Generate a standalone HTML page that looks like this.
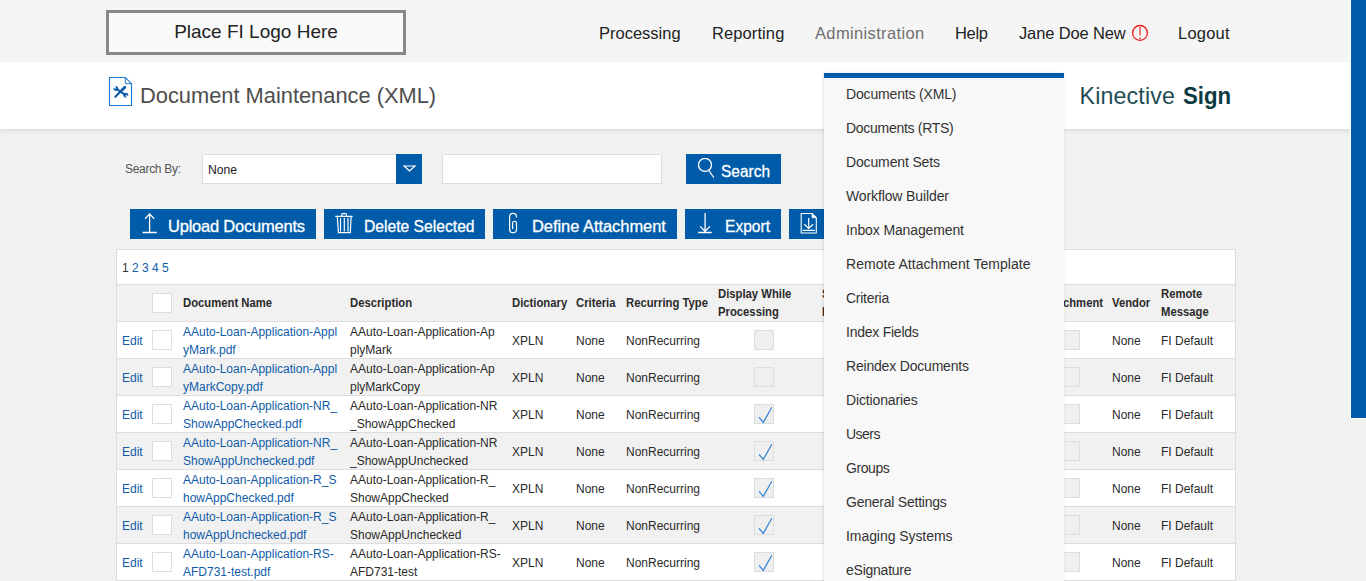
<!DOCTYPE html>
<html><head><meta charset="utf-8">
<style>
*{box-sizing:border-box;margin:0;padding:0}
html,body{width:1366px;height:581px;overflow:hidden;background:#f1f1f1;font-family:"Liberation Sans",sans-serif;color:#333}
svg{display:block;position:absolute}
#top{position:absolute;left:0;top:0;width:1350px;height:62px;background:#f5f5f5}
#logo{position:absolute;left:106px;top:10px;width:300px;height:45px;border:3px solid #888;background:#fafafa;color:#222;font-size:19px;text-align:center;line-height:38px}
.nav{position:absolute;top:23px;font-size:16.5px;color:#222;white-space:nowrap;line-height:20px}
#band{position:absolute;left:0;top:62px;width:1350px;height:67px;background:#fff;box-shadow:0 2px 4px rgba(0,0,0,0.09)}
#title{position:absolute;left:140px;top:83px;font-size:22.2px;color:#4d4d4d;white-space:nowrap;line-height:26px;transform:scaleX(0.984);transform-origin:0 0}
#kin{position:absolute;left:1079.5px;top:82px;font-size:23.2px;color:#1f4c54;white-space:nowrap;line-height:28px}
#scroll{position:absolute;left:1350px;top:0;width:16px;height:419px;background:#005ca9;border-left:1px solid #fff;border-bottom:1px solid #fff}
.lbl{position:absolute;left:125px;top:161px;font-size:12px;color:#555;line-height:16px;letter-spacing:-0.3px}
.sel{position:absolute;left:202px;top:154px;width:220px;height:30px;background:#fff;border:1px solid #ddd}
.sel span{position:absolute;left:5px;top:1px;line-height:28px;font-size:12.2px;color:#222}
.selb{position:absolute;left:396px;top:154px;width:26px;height:30px;background:#005ca9}
.inp{position:absolute;left:442px;top:154px;width:220px;height:30px;background:#fff;border:1px solid #ddd}
.btn{position:absolute;background:#005ca9;color:#fff;font-size:16px;height:30px;line-height:30px;white-space:nowrap}
.btn span{position:absolute;top:0;-webkit-text-stroke:0.3px #fff}
#tbl{position:absolute;left:116px;top:249px;width:1120px;height:73px;background:#fff;border:1px solid #ddd}
#pg{position:absolute;left:5px;top:10px;font-size:12px;line-height:16px;color:#0f5ba8;white-space:nowrap}
#hdr{position:absolute;left:0;top:34px;width:1118px;height:38px;background:#f1f1f1;border-top:1px solid #ddd;border-bottom:1px solid #ddd}
.h{position:absolute;top:0;font-size:12.2px;font-weight:bold;color:#2b2b2b;line-height:36px;white-space:nowrap;transform:scaleX(0.926);transform-origin:0 0}
.h2{position:absolute;top:0;font-size:12.2px;font-weight:bold;color:#2b2b2b;line-height:18px;white-space:nowrap;transform:scaleX(0.926);transform-origin:0 0}
.row{position:absolute;left:116px;width:1120px;height:37px;border-left:1px solid #ddd;border-right:1px solid #ddd;border-bottom:1px solid #ddd}
.c{position:absolute;top:1px;font-size:12px;line-height:36px;white-space:nowrap;color:#2a2a2a}
.c2{position:absolute;top:1px;font-size:12px;line-height:18px;white-space:nowrap;color:#2a2a2a}
.lk{color:#0f5ba8}
.cb{position:absolute;top:8px;width:20px;height:20px;background:#fff;border:1px solid #ddd}
.cb.dis{background:#efefef}
.cb svg{left:-1px;top:-1px}
#dd{position:absolute;left:824px;top:73px;width:240px;height:520px;background:#f8f8f8;border-top:5px solid #005ca9;box-shadow:-1px 0 3px rgba(0,0,0,0.12)}
.ddi{position:absolute;left:22px;font-size:14px;letter-spacing:-0.18px;color:#333;white-space:nowrap;line-height:20px}
</style></head>
<body>
<div id="top"></div>
<div id="logo">Place FI Logo Here</div>
<div class="nav" style="left:599px">Processing</div>
<div class="nav" style="left:712px;letter-spacing:0.097px">Reporting</div>
<div class="nav" style="left:815px;color:#6f6f6f;letter-spacing:0.352px">Administration</div>
<div class="nav" style="left:955px;letter-spacing:-0.336px">Help</div>
<div class="nav" style="left:1019px;letter-spacing:-0.14px">Jane Doe New</div>
<svg style="left:1131px;top:24px" width="18" height="18" viewBox="0 0 18 18"><circle cx="9" cy="8.9" r="7.4" fill="none" stroke="#f01c1c" stroke-width="1.3"/><path d="M9.1 3 V11.4" stroke="#f01c1c" stroke-width="1.15"/><rect x="8.3" y="13.6" width="1.6" height="1.3" fill="#f01c1c"/></svg>
<div class="nav" style="left:1178px;letter-spacing:0.222px">Logout</div>
<div id="band"></div>
<svg style="left:108px;top:76px" width="26" height="31" viewBox="0 0 26 31">
<path d="M1.5 1.5 H17.3 L23.5 7.7 V29.5 H1.5 Z" fill="#fff" stroke="#1b7ad0" stroke-width="1.1"/>
<path d="M17.3 1.5 V7.7 H23.5" fill="none" stroke="#1b7ad0" stroke-width="1"/>
<circle cx="7.9" cy="12.6" r="2.4" fill="#0b5aa8"/><circle cx="17.8" cy="19.2" r="2.4" fill="#0b5aa8"/>
<path d="M7.9 12.6 L17.8 19.2" stroke="#0b5aa8" stroke-width="2"/>
<path d="M7.7 12.4 L5.6 10.3 M18 19.4 L20.1 21.5" stroke="#fff" stroke-width="1.5"/>
<path d="M7.3 20.8 L13.3 14.8" stroke="#0b5aa8" stroke-width="2.1" stroke-linecap="round"/>
<path d="M13.8 14.3 L16.8 11.3" stroke="#0b5aa8" stroke-width="2.8" stroke-linecap="round"/>
</svg>
<div id="title">Document Maintenance (XML)</div>
<div id="kin"><span style="letter-spacing:0.17px">Kinective</span> <b style="display:inline-block;margin-left:1px;color:#0b3a42;transform:scaleX(0.958);transform-origin:0 0">Sign</b></div>
<div class="lbl">Search By:</div>
<div class="sel"><span>None</span></div>
<div class="selb"><svg style="left:7px;top:11px" width="13" height="7" viewBox="0 0 13 7"><path d="M1 1 H12 L6.5 6 Z" fill="none" stroke="#fff" stroke-width="1.2"/></svg></div>
<div class="inp"></div>
<div class="btn" style="left:686px;top:154px;width:95px">
<svg style="left:11px;top:4px" width="20" height="22" viewBox="0 0 20 22"><circle cx="8" cy="6.9" r="6.5" fill="none" stroke="#fff" stroke-width="1.3"/><path d="M11.8 12.4 L16.8 19.6" stroke="#fff" stroke-width="1.1"/></svg>
<span style="left:35px;font-size:16.5px;top:1.5px;transform:scaleX(0.937);transform-origin:0 0">Search</span></div>
<div class="btn" style="left:130px;top:209px;width:186px">
<svg style="left:11px;top:3px" width="18" height="22" viewBox="0 0 18 22"><path d="M8.6 2 V20.5 M4.1 6.8 L8.6 1.9 L13.1 6.8 M1.5 20.5 H15.8" fill="none" stroke="#fff" stroke-width="1.3"/></svg>
<span style="left:38px;top:2px;font-size:16.5px;letter-spacing:-0.216px">Upload Documents</span></div>
<div class="btn" style="left:324px;top:209px;width:161px">
<svg style="left:10px;top:3px" width="20" height="23" viewBox="0 0 20 23"><path d="M1.2 4.3 H18.7 M7.7 4 V2.5 Q7.7 1.6 8.6 1.6 H11.5 Q12.4 1.6 12.4 2.5 V4 M3.3 4.7 L4.4 20.6 H16.3 L17.1 4.7 M6.5 6 V19.6 M10.3 6 V19.6 M14 6 V19.6" fill="none" stroke="#fff" stroke-width="1.2"/></svg>
<span style="left:40px;top:2px;font-size:16.5px;transform:scaleX(0.949);transform-origin:0 0">Delete Selected</span></div>
<div class="btn" style="left:493px;top:209px;width:184px">
<svg style="left:14px;top:3px" width="12" height="23" viewBox="0 0 12 23"><path d="M9.5 5.5 V4.85 A3.45 3.45 0 0 0 2.6 4.85 V17.35 A3.45 3.45 0 0 0 9.5 17.35 V11.2 A1.95 1.95 0 0 0 5.6 11.2 V16.9" fill="none" stroke="#fff" stroke-width="1.2"/></svg>
<span style="left:39px;top:2px;font-size:16.5px;letter-spacing:-0.057px">Define Attachment</span></div>
<div class="btn" style="left:685px;top:209px;width:96px">
<svg style="left:11px;top:3px" width="18" height="22" viewBox="0 0 18 22"><path d="M9.1 1 V19.5 M4.2 14.4 L9.1 19.3 L14 14.4 M2.2 20.5 H15.7" fill="none" stroke="#fff" stroke-width="1.3"/></svg>
<span style="left:40px;top:2px;font-size:16.5px;transform:scaleX(0.944);transform-origin:0 0">Export</span></div>
<div class="btn" style="left:789px;top:209px;width:40px">
<svg style="left:11px;top:3px" width="18" height="22" viewBox="0 0 18 22"><path d="M1.2 1.5 H12 L16.3 5.8 V21 H1.2 Z" fill="none" stroke="#fff" stroke-width="1.1"/><path d="M12 1.5 V5.8 H16.3 Z" fill="#fff" stroke="#fff" stroke-width="0.6"/><path d="M8.7 6 V16.4 M4.3 12.2 L8.7 16.4 L13.1 12.2 M2.7 18.3 H14.8" fill="none" stroke="#fff" stroke-width="1.2"/></svg>
</div>
<div id="tbl">
<div id="pg"><span style="color:#333">1</span> 2 3 4 5</div>
<div id="hdr">
<span class="cb" style="left:35px;top:8px"></span>
<span class="h" style="left:66px">Document Name</span>
<span class="h" style="left:233px">Description</span>
<span class="h" style="left:395px">Dictionary</span>
<span class="h" style="left:459px">Criteria</span>
<span class="h" style="left:509px">Recurring Type</span>
<span class="h2" style="left:601px">Display While<br>Processing</span>
<span class="h2" style="left:705px">S<br>I</span>
<span class="h" style="left:924px">Attachment</span>
<span class="h" style="left:995px">Vendor</span>
<span class="h2" style="left:1044px">Remote<br>Message</span>
</div>
</div>
<div class="row" style="top:322px;background:#fff">
<span class="c lk" style="left:5px">Edit</span>
<span class="cb" style="left:35px"></span>
<span class="c2 lk" style="left:66px">AAuto-Loan-Application-Appl<br>yMark.pdf</span>
<span class="c2" style="left:233px">AAuto-Loan-Application-Ap<br>plyMark</span>
<span class="c" style="left:395px">XPLN</span>
<span class="c" style="left:459px">None</span>
<span class="c" style="left:509px">NonRecurring</span>
<span class="cb dis" style="left:637px"></span>
<span class="cb dis" style="left:943px"></span>
<span class="c" style="left:995px">None</span>
<span class="c" style="left:1044px">FI Default</span>
</div>
<div class="row" style="top:359px;background:#f1f1f1">
<span class="c lk" style="left:5px">Edit</span>
<span class="cb" style="left:35px"></span>
<span class="c2 lk" style="left:66px">AAuto-Loan-Application-Appl<br>yMarkCopy.pdf</span>
<span class="c2" style="left:233px">AAuto-Loan-Application-Ap<br>plyMarkCopy</span>
<span class="c" style="left:395px">XPLN</span>
<span class="c" style="left:459px">None</span>
<span class="c" style="left:509px">NonRecurring</span>
<span class="cb dis" style="left:637px"></span>
<span class="cb dis" style="left:943px"></span>
<span class="c" style="left:995px">None</span>
<span class="c" style="left:1044px">FI Default</span>
</div>
<div class="row" style="top:396px;background:#fff">
<span class="c lk" style="left:5px">Edit</span>
<span class="cb" style="left:35px"></span>
<span class="c2 lk" style="left:66px">AAuto-Loan-Application-NR_<br>ShowAppChecked.pdf</span>
<span class="c2" style="left:233px">AAuto-Loan-Application-NR<br>_ShowAppChecked</span>
<span class="c" style="left:395px">XPLN</span>
<span class="c" style="left:459px">None</span>
<span class="c" style="left:509px">NonRecurring</span>
<span class="cb dis" style="left:637px"><svg class="ck" width="20" height="20" viewBox="0 0 20 20"><path d="M5 13.3 L9.3 18.4 L17.8 3.2" fill="none" stroke="#2f82d3" stroke-width="1.15"/></svg></span>
<span class="cb dis" style="left:943px"></span>
<span class="c" style="left:995px">None</span>
<span class="c" style="left:1044px">FI Default</span>
</div>
<div class="row" style="top:433px;background:#f1f1f1">
<span class="c lk" style="left:5px">Edit</span>
<span class="cb" style="left:35px"></span>
<span class="c2 lk" style="left:66px">AAuto-Loan-Application-NR_<br>ShowAppUnchecked.pdf</span>
<span class="c2" style="left:233px">AAuto-Loan-Application-NR<br>_ShowAppUnchecked</span>
<span class="c" style="left:395px">XPLN</span>
<span class="c" style="left:459px">None</span>
<span class="c" style="left:509px">NonRecurring</span>
<span class="cb dis" style="left:637px"><svg class="ck" width="20" height="20" viewBox="0 0 20 20"><path d="M5 13.3 L9.3 18.4 L17.8 3.2" fill="none" stroke="#2f82d3" stroke-width="1.15"/></svg></span>
<span class="cb dis" style="left:943px"></span>
<span class="c" style="left:995px">None</span>
<span class="c" style="left:1044px">FI Default</span>
</div>
<div class="row" style="top:470px;background:#fff">
<span class="c lk" style="left:5px">Edit</span>
<span class="cb" style="left:35px"></span>
<span class="c2 lk" style="left:66px">AAuto-Loan-Application-R_S<br>howAppChecked.pdf</span>
<span class="c2" style="left:233px">AAuto-Loan-Application-R_<br>ShowAppChecked</span>
<span class="c" style="left:395px">XPLN</span>
<span class="c" style="left:459px">None</span>
<span class="c" style="left:509px">NonRecurring</span>
<span class="cb dis" style="left:637px"><svg class="ck" width="20" height="20" viewBox="0 0 20 20"><path d="M5 13.3 L9.3 18.4 L17.8 3.2" fill="none" stroke="#2f82d3" stroke-width="1.15"/></svg></span>
<span class="cb dis" style="left:943px"></span>
<span class="c" style="left:995px">None</span>
<span class="c" style="left:1044px">FI Default</span>
</div>
<div class="row" style="top:507px;background:#f1f1f1">
<span class="c lk" style="left:5px">Edit</span>
<span class="cb" style="left:35px"></span>
<span class="c2 lk" style="left:66px">AAuto-Loan-Application-R_S<br>howAppUnchecked.pdf</span>
<span class="c2" style="left:233px">AAuto-Loan-Application-R_<br>ShowAppUnchecked</span>
<span class="c" style="left:395px">XPLN</span>
<span class="c" style="left:459px">None</span>
<span class="c" style="left:509px">NonRecurring</span>
<span class="cb dis" style="left:637px"><svg class="ck" width="20" height="20" viewBox="0 0 20 20"><path d="M5 13.3 L9.3 18.4 L17.8 3.2" fill="none" stroke="#2f82d3" stroke-width="1.15"/></svg></span>
<span class="cb dis" style="left:943px"></span>
<span class="c" style="left:995px">None</span>
<span class="c" style="left:1044px">FI Default</span>
</div>
<div class="row" style="top:544px;background:#fff">
<span class="c lk" style="left:5px">Edit</span>
<span class="cb" style="left:35px"></span>
<span class="c2 lk" style="left:66px">AAuto-Loan-Application-RS-<br>AFD731-test.pdf</span>
<span class="c2" style="left:233px">AAuto-Loan-Application-RS-<br>AFD731-test</span>
<span class="c" style="left:395px">XPLN</span>
<span class="c" style="left:459px">None</span>
<span class="c" style="left:509px">NonRecurring</span>
<span class="cb dis" style="left:637px"><svg class="ck" width="20" height="20" viewBox="0 0 20 20"><path d="M5 13.3 L9.3 18.4 L17.8 3.2" fill="none" stroke="#2f82d3" stroke-width="1.15"/></svg></span>
<span class="cb dis" style="left:943px"></span>
<span class="c" style="left:995px">None</span>
<span class="c" style="left:1044px">FI Default</span>
</div>
<div id="dd">
<div class="ddi" style="top:6px;letter-spacing:-0.167px">Documents (XML)</div>
<div class="ddi" style="top:40px;letter-spacing:-0.285px">Documents (RTS)</div>
<div class="ddi" style="top:74px;letter-spacing:-0.141px">Document Sets</div>
<div class="ddi" style="top:108px;letter-spacing:-0.119px">Workflow Builder</div>
<div class="ddi" style="top:142px;letter-spacing:-0.123px">Inbox Management</div>
<div class="ddi" style="top:176px;letter-spacing:0.044px">Remote Attachment Template</div>
<div class="ddi" style="top:210px;letter-spacing:-0.279px">Criteria</div>
<div class="ddi" style="top:244px;letter-spacing:-0.242px">Index Fields</div>
<div class="ddi" style="top:278px;letter-spacing:-0.192px">Reindex Documents</div>
<div class="ddi" style="top:312px;letter-spacing:-0.132px">Dictionaries</div>
<div class="ddi" style="top:346px;letter-spacing:-0.535px">Users</div>
<div class="ddi" style="top:380px;letter-spacing:-0.424px">Groups</div>
<div class="ddi" style="top:414px;letter-spacing:-0.233px">General Settings</div>
<div class="ddi" style="top:448px;letter-spacing:-0.063px">Imaging Systems</div>
<div class="ddi" style="top:482px;letter-spacing:-0.243px">eSignature</div>
</div>
<div id="scroll"></div>
</body></html>
